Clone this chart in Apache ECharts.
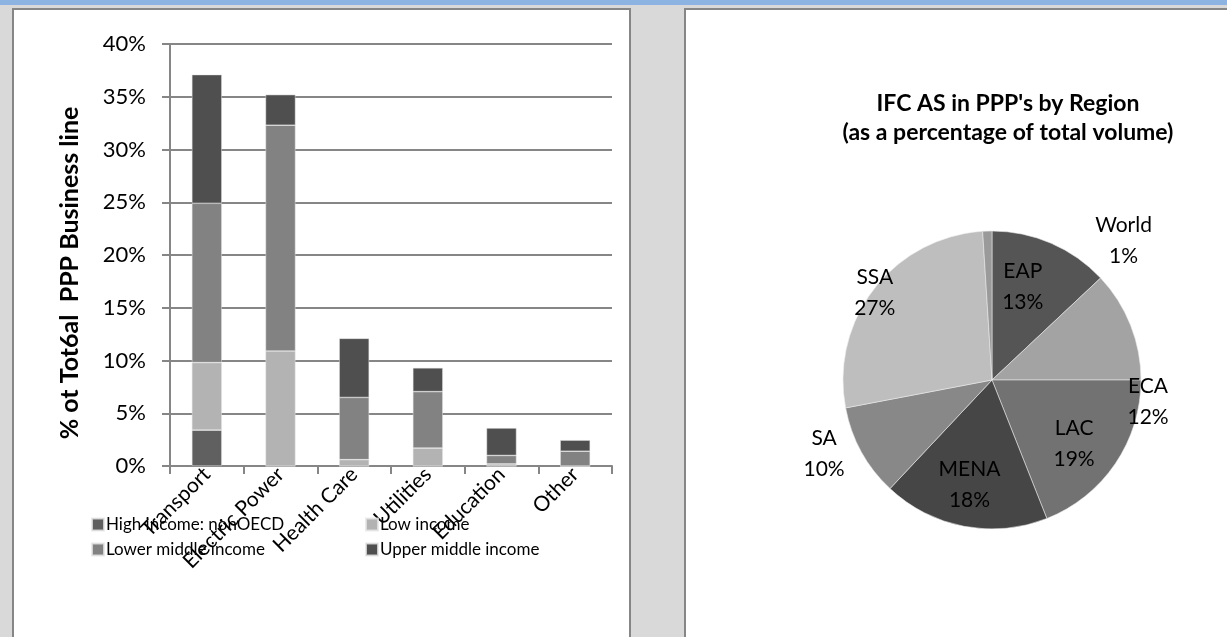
<!DOCTYPE html>
<html>
<head>
<meta charset="utf-8">
<script src="https://cdn.jsdelivr.net/npm/echarts@6/dist/echarts.min.js"></script>
<style>
  html, body { margin: 0; padding: 0; width: 1227px; height: 637px; overflow: hidden; background: #d9d9d9; }
  #band { position: absolute; left: 0; top: 0; width: 1227px; height: 5px; background: #8db3e2; }
  .panel { position: absolute; background: #fff; border: 2px solid #868686; border-bottom: none; }
  #p1 { left: 12px; top: 8px; width: 615px; height: 629px; }
  #p2 { left: 684px; top: 8px; width: 600px; height: 629px; border-right: none; }
  #chart { position: absolute; left: 0; top: 0; width: 1227px; height: 637px; }
</style>
</head>
<body>
<div id="band"></div>
<div class="panel" id="p1"></div>
<div class="panel" id="p2"></div>
<div id="chart"></div>
<script>
// Business lines (share of total PPP volume, %), stacked by client income group
const categories = ['Transport', 'Electric Power', 'Health Care', 'Utilities', 'Education', 'Other'];
const highIncomeNonOECD = [3.4, 0, 0, 0, 0, 0];
const lowIncome = [6.4, 10.9, 0.6, 1.7, 0.2, 0];
const lowerMiddleIncome = [15.1, 21.4, 5.9, 5.35, 0.8, 1.4];
const upperMiddleIncome = [12.2, 2.9, 5.6, 2.25, 2.6, 1.05];
const yTicks = { min: 0, max: 40, step: 5 };

// Regional split of IFC advisory work in PPPs (%)
const regions = ['EAP', 'ECA', 'LAC', 'MENA', 'SA', 'SSA', 'World'];
const regionShare = [13, 12, 19, 18, 10, 27, 1];

const FONT = 'Lato, "Liberation Sans", sans-serif';
const AXIS_GRAY = '#868686';

const incomeColors = {
  'High income: nonOECD': '#606060',
  'Low income': '#b3b3b3',
  'Lower middle income': '#828282',
  'Upper middle income': '#4f4f4f'
};
const regionColors = ['#555555', '#a3a3a3', '#727272', '#464646', '#888888', '#bebebe', '#9a9a9a'];
// label nudges from the default inside position of each slice
const labelShift = [[0, -22], [84, 50], [18, 20], [-8, 29], [-100, 36], [-56, -40], [134, -62]];

function barSeries(name, values) {
  return {
    name: name,
    type: 'bar',
    stack: 'total',
    barWidth: 30,
    data: values,
    itemStyle: { color: incomeColors[name], borderColor: 'rgba(230,230,230,0.8)', borderWidth: 0.6 },
    emphasis: { disabled: true }
  };
}

const legendText = { fontFamily: FONT, fontSize: 17, color: '#000', padding: [0, 0, 0, -3] };

const chart = echarts.init(document.getElementById('chart'), null, { renderer: 'canvas' });
chart.setOption({
  animation: false,
  backgroundColor: 'transparent',
  textStyle: { fontFamily: FONT },
  title: {
    text: "IFC AS in PPP's by Region\n(as a percentage of total volume)",
    left: 1003,
    top: 84,
    textAlign: 'center',
    textStyle: { fontFamily: FONT, fontWeight: 'bold', fontSize: 23, lineHeight: 29, color: '#000' }
  },
  legend: [
    {
      data: ['High income: nonOECD', 'Lower middle income'],
      orient: 'vertical', left: 86, top: 511,
      itemWidth: 12, itemHeight: 12, itemGap: 8, icon: 'rect',
      textStyle: legendText, selectedMode: false
    },
    {
      data: ['Low income', 'Upper middle income'],
      orient: 'vertical', left: 360, top: 511,
      itemWidth: 12, itemHeight: 12, itemGap: 8, icon: 'rect',
      textStyle: legendText, selectedMode: false
    }
  ],
  grid: { left: 170, top: 44, width: 442, height: 422, containLabel: false },
  xAxis: {
    type: 'category',
    data: categories,
    axisLine: { show: true, lineStyle: { color: AXIS_GRAY, width: 2 } },
    axisTick: { show: true, length: 8, alignWithLabel: false, lineStyle: { color: AXIS_GRAY, width: 2 } },
    axisLabel: { interval: 0, rotate: 45, fontSize: 21, color: '#000', margin: 5, fontFamily: FONT }
  },
  yAxis: {
    type: 'value',
    min: yTicks.min, max: yTicks.max, interval: yTicks.step,
    name: '% ot Tot6al  PPP Business line',
    nameLocation: 'middle',
    nameRotate: 90,
    nameGap: 88,
    nameTextStyle: { fontFamily: FONT, fontWeight: 'bold', fontSize: 25, color: '#000', padding: [0, 36, 0, 0] },
    axisLine: { show: true, lineStyle: { color: AXIS_GRAY, width: 2 } },
    axisTick: { show: true, length: 8, lineStyle: { color: AXIS_GRAY, width: 2 } },
    axisLabel: { formatter: '{value}%', fontSize: 22, color: '#000', margin: 24, fontFamily: FONT },
    splitLine: { show: true, lineStyle: { color: AXIS_GRAY, width: 2 } }
  },
  series: [
    barSeries('High income: nonOECD', highIncomeNonOECD),
    barSeries('Low income', lowIncome),
    barSeries('Lower middle income', lowerMiddleIncome),
    barSeries('Upper middle income', upperMiddleIncome),
    {
      type: 'pie',
      center: [992, 380],
      radius: 149,
      startAngle: 90,
      clockwise: true,
      avoidLabelOverlap: false,
      emphasis: { disabled: true },
      itemStyle: { borderColor: 'rgba(235,235,235,0.7)', borderWidth: 0.8 },
      label: {
        position: 'inside',
        formatter: function (p) { return p.name + '\n' + p.value + '%'; },
        fontFamily: FONT, fontSize: 21, lineHeight: 31, color: '#000'
      },
      labelLine: { show: false },
      labelLayout: function (params) {
        const s = labelShift[params.dataIndex];
        return { dx: s[0], dy: s[1] };
      },
      data: regions.map(function (r, i) {
        return { name: r, value: regionShare[i], itemStyle: { color: regionColors[i] } };
      })
    }
  ]
});
</script>
</body>
</html>
